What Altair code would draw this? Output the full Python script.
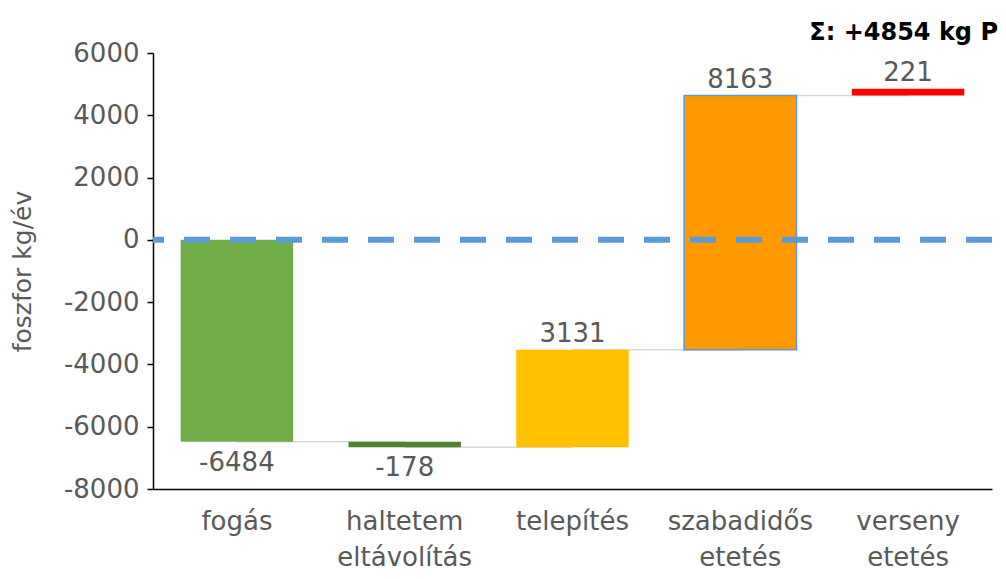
import altair as alt
import pandas as pd

categories = ["fogás", "haltetem eltávolítás", "telepítés", "szabadidős etetés", "verseny etetés"]
changes = [-6484, -178, 3131, 8163, 221]
bar_colors = ["#70AD47", "#548235", "#FFC000", "#FF9900", "#FF0000"]
value_labels = ["-6484", "-178", "3131", "8163", "221"]
y_ticks = [-8000, -6000, -4000, -2000, 0, 2000, 4000, 6000]
total_text = "Σ: +4854 kg P"
y_title = "foszfor kg/év"

# waterfall table
rows = []
running = 0
for c, v, lab in zip(categories, changes, value_labels):
    start = running
    end = running + v
    rows.append({"cat": c, "start": start, "end": end, "label": lab,
                 "lo": min(start, end), "hi": max(start, end), "neg": v < 0})
    running = end
df = pd.DataFrame(rows)

conn = []
for i in range(len(categories) - 1):
    conn.append({"id": i, "cat": categories[i], "y": rows[i]["end"]})
    conn.append({"id": i, "cat": categories[i + 1], "y": rows[i]["end"]})
cdf = pd.DataFrame(conn)

FONT = "DejaVu Sans"
GRAY = "#595959"

xscale = alt.Scale(domain=categories, paddingInner=0.33, paddingOuter=0.165)
yscale = alt.Scale(domain=[-8000, 6000], nice=False)

x_axis = alt.Axis(
    title=None, labelAngle=0, ticks=False, domainColor="black", domainWidth=1.5,
    labelFont=FONT, labelFontSize=26, labelColor=GRAY, labelPadding=19,
    labelLineHeight=36, labelExpr="split(datum.label, ' ')", labelBaseline="top",
)
y_axis = alt.Axis(
    values=y_ticks, labelExpr="'' + datum.value", grid=False, domainColor="black", domainWidth=1.5,
    tickColor="black", tickSize=6, tickWidth=1.5, labelFont=FONT, labelFontSize=26,
    labelColor=GRAY, labelPadding=8, title=y_title, titleFont=FONT, titleFontSize=25,
    titleFontWeight="normal", titleColor=GRAY, titlePadding=28,
)

connectors = alt.Chart(cdf).mark_line(color="#D9D9D9", strokeWidth=1.5).encode(
    x=alt.X("cat:N", scale=xscale, axis=x_axis, sort=categories),
    y=alt.Y("y:Q", scale=yscale, axis=y_axis),
    detail="id:N",
)

bars = alt.Chart(df).mark_bar(strokeWidth=1.5).encode(
    x=alt.X("cat:N", scale=xscale, sort=categories),
    y=alt.Y("lo:Q", scale=yscale),
    y2="hi:Q",
    color=alt.Color("cat:N", scale=alt.Scale(domain=categories, range=bar_colors), legend=None),
    stroke=alt.condition(alt.datum.cat == "szabadidős etetés", alt.value("#5B9BD5"), alt.value(None)),
)

zero = alt.Chart(pd.DataFrame({"y": [0]})).mark_rule(
    color="#5B9BD5", strokeWidth=6, strokeDash=[26, 20]
).encode(y=alt.Y("y:Q", scale=yscale))

lab_above = alt.Chart(df).transform_filter("!datum.neg").mark_text(
    font=FONT, fontSize=26, color=GRAY, baseline="alphabetic", dy=-8
).encode(x=alt.X("cat:N", scale=xscale, sort=categories), y=alt.Y("hi:Q", scale=yscale), text="label:N")

lab_below = alt.Chart(df).transform_filter("datum.neg").mark_text(
    font=FONT, fontSize=26, color=GRAY, baseline="alphabetic", dy=29
).encode(x=alt.X("cat:N", scale=xscale, sort=categories), y=alt.Y("lo:Q", scale=yscale), text="label:N")

chart = alt.layer(connectors, bars, zero, lab_above, lab_below).properties(
    width=839, height=436,
    autosize=alt.AutoSizeParams(type="none"),
    padding={"left": 145, "top": 45, "right": 6, "bottom": 88},
    title=alt.TitleParams(
        text=total_text, anchor="end", font=FONT, fontSize=24, fontWeight="bold",
        color="black", dx=3, dy=32, offset=8, baseline="alphabetic",
    ),
).configure_view(stroke=None)

chart.save("out.html", embed_options={"renderer": "svg", "actions": False})
